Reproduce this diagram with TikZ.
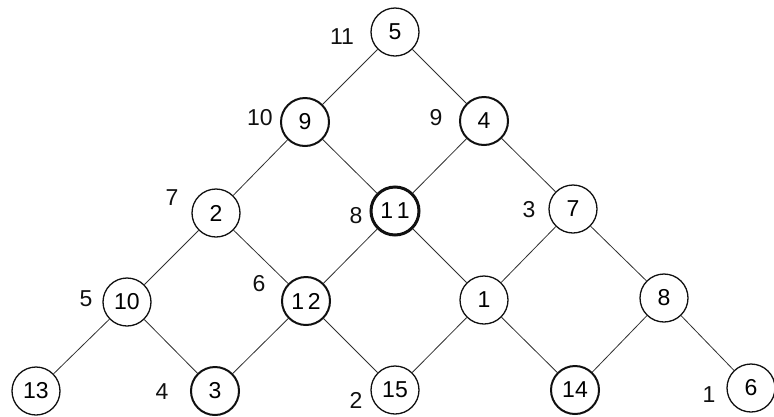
\documentclass[tikz,border=0pt]{standalone}
\usepackage{fontspec}
\setmainfont{Liberation Sans}
\usepackage{tikz}
\usetikzlibrary{positioning}
\definecolor{cEdge}{HTML}{303030}
\definecolor{cDark}{HTML}{101010}
\tikzset{
  vert/.style={
    draw=cDark, circle, line width=1.3pt,
    minimum size=48pt, inner sep=0pt,
    font=\fontsize{23}{26}\selectfont,
  },
  vertmid/.style={
    vert, line width=2pt,
  },
  vertbold/.style={
    vert, line width=3pt,
  },
  edge/.style={
    draw=cEdge, line width=0.8pt,
  },
  rank/.style={
    font=\fontsize{23}{26}\selectfont, text=cDark, inner sep=0pt,
  },
}

\begin{document}
\begin{tikzpicture}[x=1pt,y=-1pt]
\useasboundingbox (0,0) rectangle (774,416);

% ═══════════════════════════════════════════════════════════════
%  LEVELS  (y):  32, 122, 211, 300, 390
% ═══════════════════════════════════════════════════════════════

% ── level 1 ──────────────────────────────────────────────────
\node[vert] (v5) at (395,32) {5};

% ── level 2 ──────────────────────────────────────────────────
\node[vertmid] (v9) at (305,122) {9};
\node[vertmid] (v4) at (484,121) {4};

% ── level 3 ──────────────────────────────────────────────────
\node[vert] (v2) at (216,213) {2};
\node[vertbold] (v11) at (395,211) {1\,1};
\node[vert] (v7) at (573,209) {7};

% ── level 4 ──────────────────────────────────────────────────
\node[vert] (v10) at (127,302) {10};
\node[vertmid] (v12) at (306,301) {1\,2};
\node[vert] (v1) at (484,300) {1};
\node[vert] (v8) at (664,298) {8};

% ── level 5 ──────────────────────────────────────────────────
\node[vert] (v13) at (36,391) {13};
\node[vertmid] (v3) at (215,391) {3};
\node[vert] (v15) at (395,390) {15};
\node[vertmid] (v14) at (575,390) {14};
\node[vert] (v6) at (751,388) {6};

% ═══════════════════════════════════════════════════════════════
%  EDGES
% ═══════════════════════════════════════════════════════════════
\draw[edge] (v5) -- (v9);
\draw[edge] (v5) -- (v4);
\draw[edge] (v9) -- (v2);
\draw[edge] (v9) -- (v11);
\draw[edge] (v4) -- (v11);
\draw[edge] (v4) -- (v7);
\draw[edge] (v2) -- (v10);
\draw[edge] (v2) -- (v12);
\draw[edge] (v11) -- (v12);
\draw[edge] (v11) -- (v1);
\draw[edge] (v7) -- (v1);
\draw[edge] (v7) -- (v8);
\draw[edge] (v10) -- (v13);
\draw[edge] (v10) -- (v3);
\draw[edge] (v12) -- (v3);
\draw[edge] (v12) -- (v15);
\draw[edge] (v1) -- (v15);
\draw[edge] (v1) -- (v14);
\draw[edge] (v8) -- (v14);
\draw[edge] (v8) -- (v6);

% ═══════════════════════════════════════════════════════════════
%  RANK LABELS
% ═══════════════════════════════════════════════════════════════
\node[rank] (r11) at (342,37) {11};
\node[rank] (r10) at (260,118) {10};
\node[rank] (r9) at (436,118) {9};
\node[rank] (r7) at (172,198) {7};
\node[rank] (r8) at (356,216) {8};
\node[rank] (r3) at (529,210) {3};
\node[rank] (r5) at (86,299) {5};
\node[rank] (r6) at (259,284) {6};
\node[rank] (r4) at (162,392) {4};
\node[rank] (r2) at (356,400) {2};
\node[rank] (r1) at (709,395) {1};

\end{tikzpicture}
\end{document}
